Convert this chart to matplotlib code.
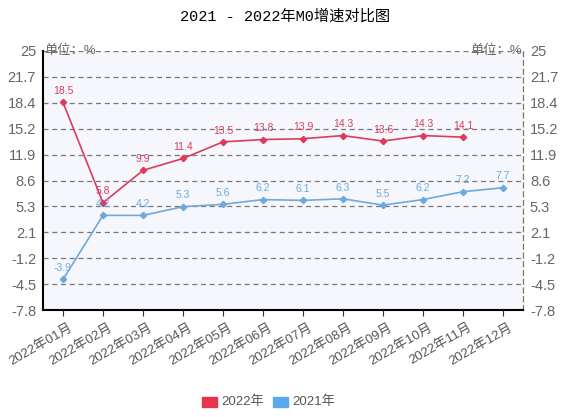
import matplotlib
matplotlib.use("Agg")
import matplotlib.pyplot as plt
import matplotlib.transforms as mtransforms
import numpy as np
from matplotlib.patches import Rectangle

plt.rcParams['font.family'] = ['Liberation Sans', 'Noto Sans CJK SC', 'DejaVu Sans']

months = ["2022年01月", "2022年02月", "2022年03月", "2022年04月", "2022年05月", "2022年06月",
          "2022年07月", "2022年08月", "2022年09月", "2022年10月", "2022年11月", "2022年12月"]
s2022 = [18.5, 5.8, 9.9, 11.4, 13.5, 13.8, 13.9, 14.3, 13.6, 14.3, 14.1]
s2021 = [-3.9, 4.2, 4.2, 5.3, 5.6, 6.2, 6.1, 6.3, 5.5, 6.2, 7.2, 7.7]
ytick_labels = ["-7.8", "-4.5", "-1.2", "2.1", "5.3", "8.6", "11.9", "15.2", "18.4", "21.7", "25"]
ymin, ymax = -7.77, 25.0

red = "#dc3c5a"
blue = "#6fa8dc"
red_leg = "#e8334f"
blue_leg = "#5aa9ef"
gray = "#555555"

fig = plt.figure(figsize=(5.7, 4.17), dpi=100)
ax = fig.add_axes([43/570, 1-310/417, 480/570, 259/417])
ax.set_facecolor("#f5f7fc")

n = len(months)
x = np.arange(n)
ax.set_xlim(-0.5, n-0.5)
ax.set_ylim(ymin, ymax)
yt = np.linspace(ymin, ymax, len(ytick_labels))
ax.set_yticks(yt)
ax.set_yticklabels(ytick_labels)
for y in yt[1:]:
    ax.axhline(y, color="#777777", lw=0.9, ls=(0, (4, 3)), zorder=1)

ax.plot(x[:len(s2022)], s2022, color=red, lw=1.2, marker="D", ms=3.2, zorder=3)
ax.plot(x, s2021, color=blue, lw=1.2, marker="D", ms=3.2, zorder=3)
for xi, v in zip(x, s2022):
    ax.annotate(f"{v:g}", (xi, v), xytext=(0, 4.5), textcoords="offset points",
                ha="center", va="bottom", fontsize=7.5, color=red)
for xi, v in zip(x, s2021):
    ax.annotate(f"{v:g}", (xi, v), xytext=(0, 4.5), textcoords="offset points",
                ha="center", va="bottom", fontsize=7.5, color=blue)

ax.set_xticks(x)
ax.set_xticklabels(months, rotation=30, ha="right", rotation_mode="anchor",
                   fontsize=9.5, color=gray)
ax.tick_params(axis="x", length=4, color="#333333", pad=4)
shift = mtransforms.ScaledTranslation(5/100, 0, fig.dpi_scale_trans)
for lab in ax.get_xticklabels():
    lab.set_transform(lab.get_transform() + shift)
ax.tick_params(axis="y", length=0, labelsize=10.5, labelcolor="#666666", pad=5,
               right=True, labelright=True)

ax.spines["top"].set_visible(False)
ax.spines["right"].set_linestyle((0, (4, 3)))
ax.spines["right"].set_color("#777777")
ax.spines["right"].set_linewidth(0.9)
ax.spines["left"].set_color("black")
ax.spines["left"].set_linewidth(1.5)
ax.spines["bottom"].set_color("black")
ax.spines["bottom"].set_linewidth(1.5)

fig.text(0.5, 1-17/417, "2021 - 2022年M0增速对比图", ha="center", va="center",
         fontsize=11, color="black", family=['Liberation Mono', 'Noto Sans CJK SC'])
ax.text(0.002, 1.0, "单位：%", transform=ax.transAxes, ha="left", va="center",
        fontsize=9.5, color="#666666")
ax.text(0.998, 1.0, "单位：%", transform=ax.transAxes, ha="right", va="center",
        fontsize=9.5, color="#666666")

# legend
ly = 1 - 402/417
fig.patches.append(Rectangle((202/570, 1-407/417), 15/570, 10/417, transform=fig.transFigure,
                             color=red_leg, figure=fig))
fig.text(221/570, ly, "2022年", ha="left", va="center", fontsize=9.5, color=gray)
fig.patches.append(Rectangle((273/570, 1-407/417), 15/570, 10/417, transform=fig.transFigure,
                             color=blue_leg, figure=fig))
fig.text(292/570, ly, "2021年", ha="left", va="center", fontsize=9.5, color=gray)

fig.savefig("out.png", dpi=100)
